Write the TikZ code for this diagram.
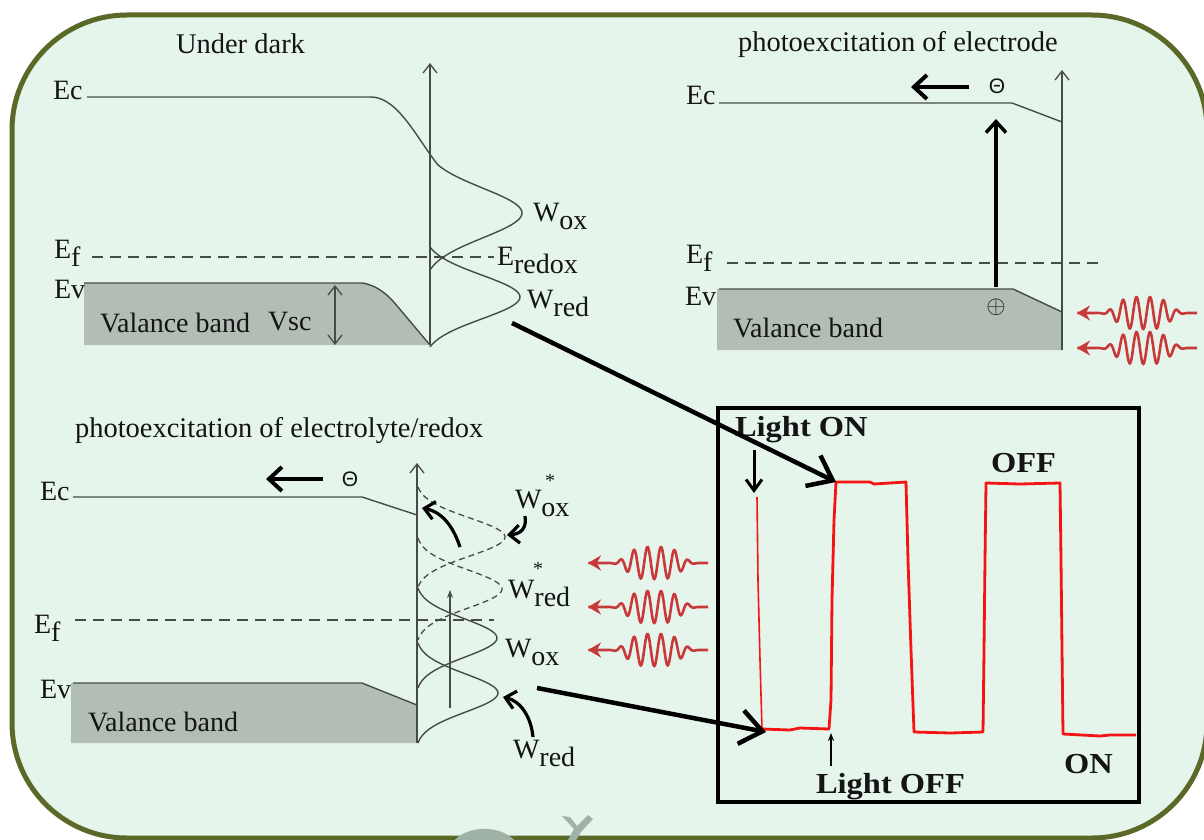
\documentclass[tikz,border=0pt]{standalone}
\usepackage{fontspec}
\setmainfont{Liberation Serif}
\newfontfamily\sansgr{Liberation Sans}
\newfontfamily\chartfont{Liberation Serif}[FakeStretch=1.12]
\usetikzlibrary{arrows.meta}
\definecolor{bgmint}{RGB}{230,245,236}
\definecolor{olivebd}{RGB}{90,105,40}
\definecolor{vbfill}{RGB}{178,190,181}
\definecolor{lineg}{RGB}{70,75,72}
\definecolor{photonred}{RGB}{200,58,58}
\definecolor{sigred}{RGB}{245,20,20}
\definecolor{wmark}{RGB}{160,178,166}
\definecolor{txt}{RGB}{20,20,20}
\newcommand{\lowsub}[1]{\raisebox{-8pt}{#1}}
\tikzset{
  band/.style={draw=lineg, line width=1.4pt},
  efdash/.style={draw=lineg, line width=1.5pt, dash pattern=on 11pt off 7pt},
  gdash/.style={draw=lineg, line width=1.3pt, dash pattern=on 6pt off 4pt},
  axisarrow/.style={draw=lineg, line width=1.3pt, -{Straight Barb[length=9pt,width=14pt]}},
  thickarrow/.style={draw=black, line width=4pt, -{Straight Barb[length=13pt,width=24pt]}},
  curvarrow/.style={draw=black, line width=3.2pt, -{Straight Barb[length=10pt,width=18pt]}},
  bigarrow/.style={draw=black, line width=4.5pt, -{Straight Barb[length=22pt,width=34pt]}},
  lbl/.style={anchor=base west, font=\fontsize{28}{30}\selectfont},
  ttl/.style={anchor=base west, font=\fontsize{28.5}{30}\selectfont},
  chartlbl/.style={anchor=base west, font=\chartfont\bfseries\fontsize{29}{30}\selectfont},
  charge/.style={font=\sansgr\fontsize{21}{21}\selectfont},
  wave/.pic={
    \draw[photonred, line width=2.6pt, -{Stealth[length=13pt,width=15pt]}]
      plot[domain=120:0, samples=260, variable=\q]
      (\q, {-16*exp(0-(((\q-66)/30)*((\q-66)/30))*(((\q-66)/30)*((\q-66)/30)))*cos(26.6667*(\q-46))});
  }
}
\begin{document}
\begin{tikzpicture}[x=1pt,y=-1pt, every node/.style={inner sep=0pt, outer sep=0pt, text=txt}]
\useasboundingbox (0,0) rectangle (1204,840);
\fill[white] (0,0) rectangle (1204,840);
\draw[olivebd, line width=5pt, fill=bgmint, rounded corners=115pt] (12,15) rectangle (1207,838);

% watermark
\fill[wmark] (453,842) .. controls (465,826) and (500,823) .. (516,842) -- cycle;
\fill[wmark] (562,816) -- (570,817) -- (577,826) -- (588,815) -- (593,819) -- (581,832) -- (575,842) -- (567,842) -- (574,829) -- cycle;

%================ Top-left: Under dark ================
\fill[vbfill] (84,283) -- (362,283) .. controls (378,285) and (390,297) .. (398,307) -- (430,345) -- (84,345) -- cycle;
\coordinate (tlAxB) at (430,345);
\coordinate (tlAxT) at (430,63);
\draw[axisarrow] (tlAxB) -- (tlAxT);
\draw[band] (87,97) -- (371,97) .. controls (398,97) and (418,140) .. (438,165)
  -- plot[domain=165:270, samples=60, variable=\u] ({430+92*(exp(0-((\u-213)/35)*((\u-213)/35))-0.0705)/0.9295}, \u);
\draw[band] plot[domain=247:347, samples=60, variable=\u] ({430+90*(exp(0-((\u-297)/31)*((\u-297)/31))-0.0742)/0.9258}, \u);
\draw[band] (84,283) -- (362,283) .. controls (378,285) and (390,297) .. (398,307) -- (tlAxB);
\draw[efdash] (92,257) -- (494,257);
\coordinate (vscT) at (335,285);
\coordinate (vscB) at (335,345);
\draw[lineg, line width=1.3pt, {Straight Barb[length=9pt,width=14pt]}-{Straight Barb[length=9pt,width=14pt]}] (vscT) -- (vscB);
\node[ttl] (tlTitle) at (176,54) {Under dark};
\node[lbl] (tlEc) at (53,100) {Ec};
\node[lbl] (tlEf) at (54,258) {E\lowsub{f}};
\node[lbl] (tlEv) at (54,298) {Ev};
\node[lbl] (tlVB) at (100,332) {Valance band};
\node[lbl] (tlVsc) at (268,330) {Vsc};
\node[lbl] (tlWox) at (533,221) {W\lowsub{ox}};
\node[lbl] (tlEredox) at (497,265) {E\lowsub{redox}};
\node[lbl] (tlWred) at (527,308) {W\lowsub{red}};

%================ Top-right: photoexcitation of electrode ================
\fill[vbfill] (717,289) -- (1013,289) -- (1062,312) -- (1062,350) -- (717,350) -- cycle;
\coordinate (trAxB) at (1062,350);
\coordinate (trAxT) at (1062,70);
\draw[axisarrow] (trAxB) -- (trAxT);
\draw[band] (719,103) -- (1012,103) -- (1062,122);
\draw[band] (719,289) -- (1013,289) -- (1062,312);
\draw[efdash] (727,263) -- (1104,263);
\node[ttl] (trTitle) at (738,52) {photoexcitation of electrode};
\node[lbl] (trEc) at (686,105) {Ec};
\node[lbl] (trEf) at (686,263) {E\lowsub{f}};
\node[lbl] (trEv) at (685,305) {Ev};
\node[lbl] (trVB) at (733,337) {Valance band};
\node[charge] (trElec) at (997,86) {Θ};
\node[font=\fontsize{26}{26}\selectfont] (trHole) at (996,307) {$\oplus$};
\coordinate (trElecArrS) at (969,87);
\coordinate (trElecArrE) at (911,87);
\draw[thickarrow] (trElecArrS) -- (trElecArrE);
\coordinate (trExcS) at (996,287);
\coordinate (trExcE) at (996,119);
\draw[draw=black, line width=3.5pt, -{Straight Barb[length=11pt,width=20pt]}] (trExcS) -- (trExcE);
\pic at (1077,313) {wave};
\pic at (1077,348) {wave};

%================ Bottom-left: photoexcitation of electrolyte/redox ================
\fill[vbfill] (71,683) -- (362,683) -- (417,705) -- (417,743) -- (71,743) -- cycle;
\coordinate (blAxB) at (417,743);
\coordinate (blAxT) at (417,463);
\draw[axisarrow] (blAxB) -- (blAxT);
\draw[band] (73,497) -- (362,497) -- (417,515);
\draw[band] (73,683) -- (362,683) -- (417,705);
\draw[gdash] plot[domain=487:587, samples=60, variable=\u] ({418+87*(exp(0-((\u-537)/27)*((\u-537)/27))-0.0324)/0.9676}, \u);
\draw[gdash] plot[domain=538:640, samples=60, variable=\u] ({418+84*(exp(0-((\u-589)/27)*((\u-589)/27))-0.0282)/0.9718}, \u);
\draw[band] plot[domain=588:688, samples=60, variable=\u] ({418+79*(exp(0-((\u-638)/27)*((\u-638)/27))-0.0324)/0.9676}, \u);
\draw[band] plot[domain=643:743, samples=60, variable=\u] ({418+80*(exp(0-((\u-693)/27)*((\u-693)/27))-0.0324)/0.9676}, \u);
\draw[efdash] (75,620) -- (494,620);
\coordinate (blThinS) at (450,708);
\coordinate (blThinE) at (450,590);
\draw[lineg, line width=1.2pt, -{Stealth[length=8pt,width=6pt]}] (blThinS) -- (blThinE);
\node[ttl] (blTitle) at (75,437) {photoexcitation of electrolyte/redox};
\node[lbl] (blEc) at (40,500) {Ec};
\node[lbl] (blEf) at (34,633) {E\lowsub{f}};
\node[lbl] (blEv) at (40,698) {Ev};
\node[lbl] (blVB) at (88,731) {Valance band};
\node[charge] (blElec) at (350,479) {Θ};
\coordinate (blElecArrS) at (323,479);
\coordinate (blElecArrE) at (266,479);
\draw[thickarrow] (blElecArrS) -- (blElecArrE);
\node[lbl] (blWoxS) at (515,508) {W\lowsub{ox}};
\node[font=\fontsize{20}{20}\selectfont] (blStar1) at (550,481) {*};
\node[lbl] (blWredS) at (508,598) {W\lowsub{red}};
\node[font=\fontsize{20}{20}\selectfont] (blStar2) at (538,569) {*};
\node[lbl] (blWox) at (505,657) {W\lowsub{ox}};
\node[lbl] (blWred) at (513,758) {W\lowsub{red}};
\coordinate (blEcHit) at (422,508);
\coordinate (blCurvS) at (460,547);
\draw[curvarrow] (blCurvS) .. controls (453,526) and (442,512) .. (blEcHit);
\coordinate (blWoxSpk) at (507,535);
\coordinate (blWoxSarr) at (525,516);
\draw[curvarrow] (blWoxSarr) .. controls (527,528) and (521,534) .. (blWoxSpk);
\coordinate (blWredPk) at (503,697);
\coordinate (blWredArr) at (533,737);
\draw[curvarrow] (blWredArr) .. controls (531,716) and (520,701) .. (blWredPk);
\pic at (588,563) {wave};
\pic at (588,607) {wave};
\pic at (588,650) {wave};

%================ Bottom-right: chart ================
\node[draw=black, line width=4pt, minimum width=421pt, minimum height=394pt, anchor=north west] (chart) at (718,408) {};
\coordinate (sigStart) at (757,497);
\coordinate (sigLow1) at (762,729);
\coordinate (sigHigh1) at (836,482);
\draw[sigred, line width=1.6pt] (sigStart) -- (758,580) -- (760,660) -- (sigLow1);
\draw[sigred, line width=2.8pt, line join=round] (sigLow1) -- (790,730) -- (800,728) -- (829,729) -- (831,700) -- (832,600) -- (834,520) -- (sigHigh1)
  -- (870,482) -- (874,484) -- (906,482) -- (908,560) -- (911,650) -- (914,732)
  -- (950,733) -- (983,732) -- (984,650) -- (985,560) -- (986,483)
  -- (1020,484) -- (1060,483) -- (1061,560) -- (1062,650) -- (1063,734)
  -- (1100,736) -- (1110,735) -- (1136,735);
\node[chartlbl] (lightOn) at (735,436) {Light ON};
\node[chartlbl] (offLbl) at (991,472) {OFF};
\node[chartlbl] (onLbl) at (1064,773) {ON};
\node[chartlbl] (lightOff) at (816,793) {Light OFF};
\coordinate (onArrS) at (754,450);
\coordinate (onArrE) at (754,493);
\draw[black, line width=3pt, -{Straight Barb[length=11pt,width=16pt]}] (onArrS) -- (onArrE);
\coordinate (offArrS) at (831,766);
\coordinate (offArrE) at (831,733);
\draw[black, line width=1.5pt, -{Stealth[length=8pt,width=6pt]}] (offArrS) -- (offArrE);
\coordinate (tlWredFoot) at (512,323);
\draw[bigarrow] (tlWredFoot) -- (sigHigh1);
\coordinate (blWredFoot) at (537,688);
\coordinate (sigLow1tip) at (766,732);
\draw[bigarrow] (blWredFoot) -- (sigLow1tip);
\end{tikzpicture}
\end{document}
